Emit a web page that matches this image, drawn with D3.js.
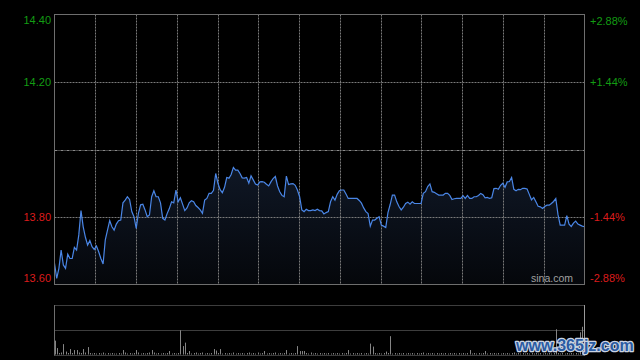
<!DOCTYPE html>
<html><head><meta charset="utf-8">
<script src="https://cdn.jsdelivr.net/npm/d3@7"></script>
<style>html,body{margin:0;padding:0;background:#000;}svg{display:block;}</style>
</head><body>
<svg id="c" width="640" height="360"></svg>
<script>
const prevClose = 14.00;
const leftTicks = [14.40, 14.20, 13.80, 13.60];
const rightTicks = ["+2.88%", "+1.44%", "-1.44%", "-2.88%"];
const prices = [
13.663,13.618,13.648,13.702,13.658,13.648,13.690,13.677,13.677,13.710,
13.702,13.747,13.819,13.771,13.740,13.717,13.730,13.712,13.704,13.714,
13.697,13.677,13.661,13.732,13.761,13.789,13.771,13.761,13.779,13.789,
13.791,13.842,13.850,13.860,13.852,13.816,13.801,13.766,13.811,13.836,
13.838,13.821,13.801,13.806,13.860,13.878,13.860,13.860,13.842,13.796,
13.791,13.810,13.825,13.845,13.842,13.880,13.845,13.857,13.838,13.819,
13.827,13.842,13.848,13.845,13.834,13.828,13.821,13.811,13.850,13.855,
13.870,13.870,13.879,13.929,13.900,13.881,13.872,13.888,13.917,13.915,
13.926,13.947,13.939,13.939,13.929,13.916,13.915,13.917,13.900,13.922,
13.910,13.898,13.895,13.904,13.905,13.903,13.897,13.892,13.904,13.914,
13.920,13.892,13.875,13.864,13.860,13.921,13.896,13.898,13.899,13.894,
13.880,13.860,13.821,13.816,13.823,13.819,13.819,13.821,13.819,13.823,
13.819,13.818,13.809,13.813,13.816,13.845,13.860,13.850,13.867,13.878,
13.880,13.880,13.868,13.855,13.855,13.855,13.855,13.855,13.849,13.841,
13.827,13.816,13.810,13.773,13.791,13.791,13.796,13.801,13.776,13.773,
13.769,13.813,13.837,13.865,13.865,13.845,13.831,13.821,13.829,13.840,
13.844,13.838,13.845,13.840,13.840,13.840,13.840,13.870,13.875,13.890,
13.898,13.875,13.873,13.869,13.865,13.865,13.865,13.870,13.870,13.864,
13.852,13.854,13.855,13.855,13.855,13.863,13.855,13.864,13.855,13.855,
13.860,13.860,13.864,13.870,13.866,13.857,13.858,13.855,13.857,13.884,
13.885,13.882,13.894,13.900,13.888,13.904,13.905,13.917,13.882,13.878,
13.882,13.881,13.885,13.885,13.883,13.867,13.851,13.858,13.845,13.832,
13.830,13.825,13.831,13.835,13.835,13.840,13.846,13.855,13.807,13.776,
13.776,13.776,13.804,13.779,13.772,13.782,13.788,13.779,13.776,13.773,
13.771
];
const volumes = [
28,13,3,4,21,6,3,11,3,9, 9,4,3,11,4,15,3,2,3,2,
3,2,4,2,3,2,3,2,2,3, 2,9,4,2,3,2,3,9,4,2,
3,2,3,4,9,4,2,3,2,3, 2,3,7,2,3,2,3,49,17,24,
3,7,2,3,4,2,3,4,2,3, 2,3,11,8,3,11,2,3,2,3,
2,4,2,3,2,3,2,3,4,2, 3,2,4,2,3,7,2,3,2,3,
4,2,3,2,3,9,2,3,2,3, 17,7,7,7,3,2,4,2,3,2,
3,2,3,2,3,2,3,2,3,2, 3,2,3,9,2,3,2,3,2,3,
2,3,2,22,16,3,2,3,2,3, 6,3,37,2,3,2,3,2,3,2,
3,2,3,2,3,2,3,4,2,3, 2,3,2,3,2,3,2,3,2,3,
2,3,2,3,2,3,2,3,9,2, 3,2,3,2,3,7,2,3,2,3,
2,3,2,3,2,3,2,3,4,2, 3,2,3,2,3,2,3,2,3,2,
3,2,3,2,3,2,3,51,3,2, 3,2,3,2,3,2,3,2,45,56,
20
];

const svg = d3.select("#c");
const L = 54.5, R = 584.5, T = 14.5, B = 284.5;
const VT = 305, VB = 354.5;
const x = d3.scaleLinear().domain([0, 240]).range([L, R]);
const y = d3.scaleLinear().domain([13.60, 14.40]).range([B, T]);
const yv = d3.scaleLinear().domain([0, 100]).range([VB, VT]);
const pct = d3.scaleLinear().domain([13.60, 14.40]).range([(13.60/prevClose-1)*100, (14.40/prevClose-1)*100]);

const grid = "#7a7a7a";
// area gradient
const defs = svg.append("defs");
const g = defs.append("linearGradient").attr("id","ag").attr("x1",0).attr("y1",0).attr("x2",0).attr("y2",1);
g.append("stop").attr("offset","0%").attr("stop-color","#0f1725");
g.append("stop").attr("offset","100%").attr("stop-color","#05070b");

const data = prices.map((p,i)=>({t:i,p:p,v:volumes[i]}));

svg.append("path").datum(data)
  .attr("fill","url(#ag)")
  .attr("d", d3.area().x(d=>x(d.t)).y0(B).y1(d=>y(d.p)));

// vertical grid
const vCols = d3.range(1,13).map(k=>k*240/13);
svg.append("g").selectAll("line").data(vCols).join("line")
  .attr("x1",d=>Math.round(x(d))+0.5).attr("x2",d=>Math.round(x(d))+0.5)
  .attr("y1",T).attr("y2",B)
  .attr("stroke",grid).attr("stroke-dasharray","2,1");

// horizontal grid
svg.append("g").selectAll("line").data([14.20,13.80]).join("line")
  .attr("x1",L).attr("x2",R)
  .attr("y1",d=>Math.round(y(d))+0.5).attr("y2",d=>Math.round(y(d))+0.5)
  .attr("stroke",grid).attr("stroke-dasharray","2,1");

// prev close
svg.append("line").attr("x1",L).attr("x2",R)
  .attr("y1",Math.round(y(prevClose))+0.5).attr("y2",Math.round(y(prevClose))+0.5)
  .attr("stroke","#8a8a8a").attr("stroke-dasharray","3,1,1,1");

// price line
svg.append("path").datum(data)
  .attr("fill","none").attr("stroke","#4a86e6").attr("stroke-width",1.2)
  .attr("d", d3.line().x(d=>x(d.t)).y(d=>y(d.p)));

// border
svg.append("rect").attr("x",L).attr("y",T).attr("width",R-L).attr("height",B-T)
  .attr("fill","none").attr("stroke","#6e6e6e");

// left labels
svg.append("g").selectAll("text").data(leftTicks).join("text")
  .attr("x",51).attr("text-anchor","end")
  .attr("y",(d,i)=>{const yy=y(d); return i===0?yy+9.5:(i===3?yy-2.5:yy+4);})
  .attr("fill",d=>d>prevClose?"#139c13":"#dc1c1c")
  .style("font-family","Arial, 'Liberation Sans', sans-serif").style("font-size","11px")
  .text(d=>d.toFixed(2));

// right labels
svg.append("g").selectAll("text").data(rightTicks).join("text")
  .attr("x",590).attr("text-anchor","start")
  .attr("y",(d,i)=>{const yy=y(leftTicks[i]); return i===0?yy+10.5:(i===3?yy-2.5:yy+4);})
  .attr("fill",d=>d[0]==="+"?"#139c13":"#dc1c1c")
  .style("font-family","Arial, 'Liberation Sans', sans-serif").style("font-size","11px")
  .text(d=>d);

// sina.com
svg.append("text").attr("x",573).attr("y",282).attr("text-anchor","end")
  .attr("fill","#a0a0a0").style("font-family","Arial, 'Liberation Sans', sans-serif").style("font-size","10.5px")
  .text("sina.com");

// volume panel
svg.append("g").selectAll("line").data([100,50,0]).join("line")
  .attr("x1",L).attr("x2",R)
  .attr("y1",d=>Math.round(yv(d))+0.5).attr("y2",d=>Math.round(yv(d))+0.5)
  .attr("stroke",grid).attr("stroke-dasharray","1,1");
svg.append("g").selectAll("rect").data(data).join("rect")
  .attr("x",d=>Math.round(x(d.t))).attr("width",1)
  .attr("y",d=>yv(d.v)).attr("height",d=>VB-yv(d.v))
  .attr("fill","#858585");
svg.append("line").attr("x1",L).attr("x2",L).attr("y1",VT).attr("y2",VB+1).attr("stroke","#6e6e6e");
svg.append("line").attr("x1",R).attr("x2",R).attr("y1",VT).attr("y2",VB+1).attr("stroke","#9a9a9a");

// watermark
svg.append("text").attr("x",516).attr("y",351)
  .attr("fill","#2b5ba2").attr("stroke","#c9d3e2").attr("stroke-width",2.5)
  .attr("paint-order","stroke").attr("stroke-linejoin","round")
  .style("font-family","Arial, 'Liberation Sans', sans-serif").style("font-size","16px").style("font-weight","bold")
  .text("www.365jz.com");
</script>
</body></html>
